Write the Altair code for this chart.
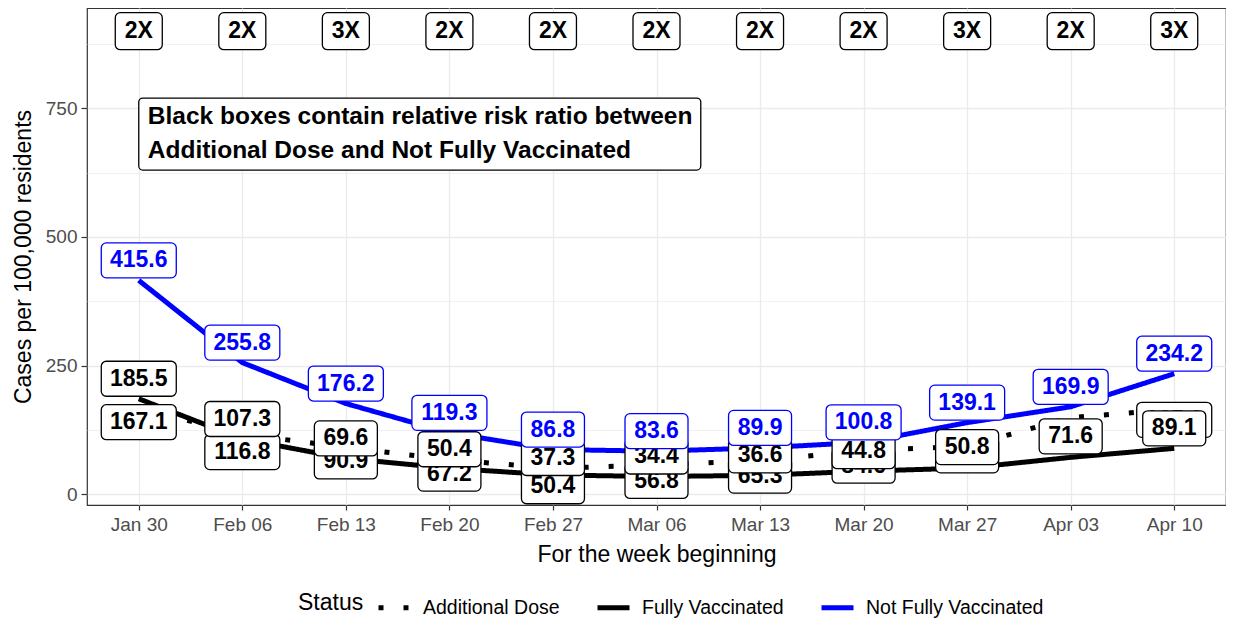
import altair as alt
import pandas as pd

# ---------------- data ----------------
weeks = ["2022-01-30", "2022-02-06", "2022-02-13", "2022-02-20", "2022-02-27",
         "2022-03-06", "2022-03-13", "2022-03-20", "2022-03-27", "2022-04-03",
         "2022-04-10"]
not_fully_vaccinated = [415.6, 255.8, 176.2, 119.3, 86.8, 83.6, 89.9, 100.8, 139.1, 169.9, 234.2]
fully_vaccinated = [185.5, 107.3, 69.6, 50.4, 37.3, 34.4, 36.6, 44.8, 50.8, 71.6, 89.1]
additional_dose = [167.1, 116.8, 90.9, 67.2, 50.4, 56.8, 65.3, 84.6, 93.0, 149.0, 165.0]
risk_ratio = ["2X", "2X", "3X", "2X", "2X", "2X", "2X", "2X", "3X", "2X", "3X"]
statuses = ["Additional Dose", "Fully Vaccinated", "Not Fully Vaccinated"]
note_text = "Black boxes contain relative risk ratio between\nAdditional Dose and Not Fully Vaccinated"

# ---------------- layout / style ----------------
status_colors = ["#000000", "#000000", "#0000FF"]
status_dash = [[5, 20], [1, 0], [1, 0]]
# vertical shift of each value label box, in pixels (negative = up); None = no label
shift_additional = [14, 18, 14, 14, 18, 16, 15, 15, 9, None, 10.5]
shift_fully = [-20, -20, -20, -19, -17, -20, -20, -20, -21, -21, -20]
shift_not_fully = [-20] * 11
RATIO_Y = 900
NOTE_Y = 700

Y_MIN, Y_MAX = -21, 945
PLOT_W, PLOT_H = 1139, 497
UNITS_PER_PX = (Y_MAX - Y_MIN) / PLOT_H
FONT = "Liberation Sans"
BOX_W = {4: 63, 5: 75}

values = {"Additional Dose": additional_dose,
          "Fully Vaccinated": fully_vaccinated,
          "Not Fully Vaccinated": not_fully_vaccinated}
shifts = {"Additional Dose": shift_additional,
          "Fully Vaccinated": shift_fully,
          "Not Fully Vaccinated": shift_not_fully}

rows = []
for st in statuses:
    for i, w in enumerate(weeks):
        v = values[st][i]
        s = shifts[st][i]
        txt = f"{v:.1f}"
        rows.append(dict(week=w, status=st, value=v,
                         label=txt if s is not None else None,
                         label_y=(v - s * UNITS_PER_PX) if s is not None else None,
                         nchar=len(txt)))
df = pd.DataFrame(rows)

ratio_df = pd.DataFrame({"week": weeks, "ratio": risk_ratio})
note_df = pd.DataFrame({"week": [weeks[0]], "note": [note_text]})


def ms(s):
    return int(pd.Timestamp(s, tz="UTC").value // 10**6)


tick_ms = [ms(w) for w in weeks]
x_dom = [ms("2022-01-26 12:00"), ms("2022-04-13 12:00")]

x_scale = alt.Scale(type="utc", domain=x_dom, nice=False)
y_scale = alt.Scale(domain=[Y_MIN, Y_MAX], nice=False, zero=False)
Y_TITLE = "Cases per 100,000 residents"
X_TITLE = "For the week beginning"

x_axis = alt.Axis(values=tick_ms, format="%b %d", labelFontSize=19, titleFontSize=23,
                  tickSize=5, labelPadding=5, titlePadding=9, gridColor="#EBEBEB",
                  gridWidth=1.3)
y_axis = alt.Axis(values=[0, 125, 250, 375, 500, 625, 750, 875],
                  labelExpr="datum.value % 250 == 0 ? datum.label : ''",
                  tickOpacity={"condition": {"test": "datum.value % 250 != 0", "value": 0}, "value": 1},
                  gridWidth={"condition": {"test": "datum.value % 250 != 0", "value": 0.7}, "value": 1.3},
                  gridColor="#EBEBEB", labelFontSize=19, titleFontSize=23,
                  tickSize=6, labelPadding=4, titlePadding=10)

x_enc = alt.X("week:T", title=X_TITLE, scale=x_scale, axis=x_axis)


def y_field(field):
    return alt.Y(field, title=Y_TITLE, scale=y_scale, axis=y_axis)


def y_datum(v):
    return alt.Y(datum=v, title=Y_TITLE, scale=y_scale, axis=y_axis)


legend = alt.Legend(title="Status", orient="none", legendX=211, legendY=581,
                    direction="horizontal", titleOrient="left", titleAnchor="middle",
                    titleBaseline="middle", symbolType="stroke",
                    symbolSize=1024, symbolStrokeWidth=5, labelFontSize=19.5,
                    titleFontSize=23, titleFontWeight="normal", columnPadding=27,
                    labelOffset=10, titlePadding=12, labelColor="#000000",
                    titleColor="#000000", labelLimit=400)

lines = alt.Chart(df).mark_line(strokeWidth=5, strokeCap="butt").encode(
    x=x_enc,
    y=y_field("value:Q"),
    color=alt.Color("status:N", scale=alt.Scale(domain=statuses, range=status_colors), legend=legend),
    strokeDash=alt.StrokeDash("status:N", scale=alt.Scale(domain=statuses, range=status_dash), legend=legend),
    detail="status:N",
)

layers = [lines]

ratio_box = alt.Chart(ratio_df).mark_rect(width=47, height=37, cornerRadius=5, fill="white",
                                          stroke="black", strokeWidth=1.3).encode(
    x=x_enc, y=y_datum(RATIO_Y))
ratio_txt = alt.Chart(ratio_df).mark_text(fontSize=23, fontWeight="bold", font=FONT,
                                          color="black", baseline="middle").encode(
    x=x_enc, y=y_datum(RATIO_Y), text="ratio:N")
note_box = alt.Chart(note_df).mark_rect(width=562, height=72, xOffset=281, cornerRadius=4,
                                        fill="white", stroke="black", strokeWidth=1.3).encode(
    x=x_enc, y=y_datum(NOTE_Y))
note_txt = alt.Chart(note_df).mark_text(fontSize=24.5, fontWeight="bold", font=FONT, color="black",
                                        align="left", baseline="middle", dx=9, dy=-17,
                                        lineBreak="\n", lineHeight=34).encode(
    x=x_enc, y=y_datum(NOTE_Y), text="note:N")
layers += [ratio_box, ratio_txt, note_box, note_txt]

for st, col in zip(statuses, status_colors):
    sub = df[(df["status"] == st) & df["label"].notna()]
    for n, wpx in BOX_W.items():
        part = sub[sub["nchar"] == n]
        if len(part) == 0:
            continue
        layers.append(alt.Chart(part).mark_rect(width=wpx, height=35, cornerRadius=5, fill="white",
                                                stroke=col, strokeWidth=1.3).encode(
            x=x_enc, y=y_field("label_y:Q")))
    layers.append(alt.Chart(sub).mark_text(fontSize=23, fontWeight="bold", font=FONT, color=col,
                                           baseline="middle").encode(
        x=x_enc, y=y_field("label_y:Q"), text="label:N"))

chart = alt.layer(*layers).properties(
    width=PLOT_W, height=PLOT_H,
    autosize=alt.AutoSizeParams(type="none"),
    padding={"left": 79, "top": 0, "right": 0, "bottom": 115},
).configure(font=FONT).configure_view(
    stroke="#333333", strokeWidth=1.2
).configure_axis(
    domain=False, tickColor="#333333", tickWidth=1.2, labelColor="#4D4D4D",
    titleColor="#000000", titleFontWeight="normal", labelFont=FONT, titleFont=FONT
).configure_legend(labelFont=FONT, titleFont=FONT)

chart.save("out.html", embed_options={"renderer": "svg", "actions": False})
